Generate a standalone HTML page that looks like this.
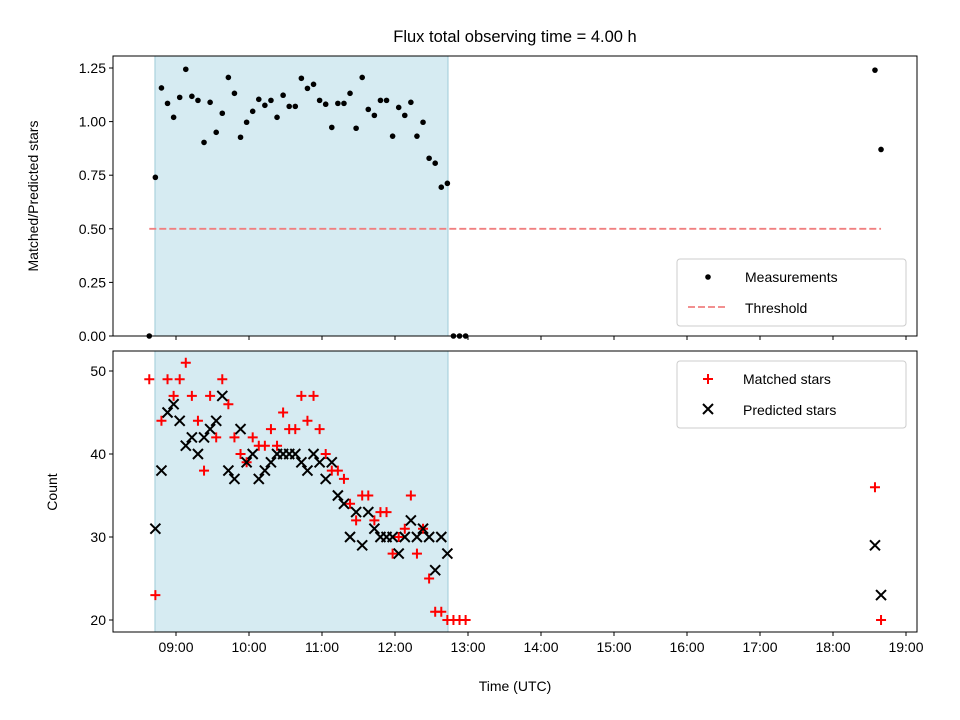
<!DOCTYPE html>
<html><head><meta charset="utf-8"><style>
body{margin:0;background:#fff}
svg{display:block;font-family:"Liberation Sans","DejaVu Sans",sans-serif}
</style></head><body>
<svg id="chart" width="960" height="720" viewBox="0 0 960 720">
<rect width="960" height="720" fill="#fff"/>
<text x="515" y="42" font-size="16.5" text-anchor="middle">Flux total observing time = 4.00 h</text>
<g id="topPanel"></g><g id="botPanel"></g>
</svg>
<script>
const ratioValues=[0,0.74,1.157,1.085,1.02,1.113,1.244,1.118,1.099,0.903,1.09,0.95,1.039,1.206,1.132,0.927,0.997,1.048,1.104,1.076,1.099,1.02,1.123,1.071,1.071,1.202,1.155,1.174,1.099,1.081,0.973,1.085,1.085,1.132,0.969,1.206,1.057,1.029,1.099,1.099,0.932,1.066,1.029,1.09,0.932,0.997,0.829,0.806,0.694,0.712,0,0,0];
const matchedValues=[49,23,44,49,47,49,51,47,44,38,47,42,49,46,42,40,39,42,41,41,43,41,45,43,43,47,44,47,43,40,38,38,37,34,32,35,35,32,33,33,28,30,31,35,28,31,25,21,21,20,20,20,20];
const predictedValues=[null,31,38,45,46,44,41,42,40,42,43,44,47,38,37,43,39,40,37,38,39,40,40,40,40,39,38,40,39,37,39,35,34,30,33,29,33,31,30,30,30,28,30,32,30,31,30,26,30,28,null,null,null];
const lateTimes=[18.575,18.658];
const lateRatio=[1.24,0.87];
const lateMatched=[36,20];
const latePredicted=[29,23];
const startTime=8.634, stepHours=5/60;
const shadeStart=8.712, shadeEnd=12.726, threshold=0.5, thrStart=8.634, thrEnd=18.658;
const xTickHours=[9,10,11,12,13,14,15,16,17,18,19];
const topTicks=[0,0.25,0.5,0.75,1.0,1.25];
const botTicks=[20,30,40,50];

const NS='http://www.w3.org/2000/svg';
const X=t=>176+(t-9)*73;
const YT=v=>336-v*214.4;
const YB=c=>620-(c-20)*8.3;
const times=ratioValues.map((_,i)=>startTime+i*stepHours);
function mk(p,tag,a){const e=document.createElementNS(NS,tag);for(const k in a)e.setAttribute(k,a[k]);p.appendChild(e);return e;}
const topG=document.getElementById('topPanel'), botG=document.getElementById('botPanel');

function shade(g,y0,y1,name){
  let s=mk(g,'rect',{x:X(shadeStart),y:y0,width:X(shadeEnd)-X(shadeStart),height:y1-y0,fill:'#add8e6','fill-opacity':0.5,stroke:'#9fcbd8'});
  
  
}
function frame(g,y0,y1,name,labels){
  let f=mk(g,'rect',{x:113,y:y0,width:804,height:y1-y0,fill:'none',stroke:'#000','stroke-width':1});
  
  
  xTickHours.forEach(h=>{
    mk(g,'line',{x1:X(h),x2:X(h),y1:y1,y2:y1+4,stroke:'#000'});
    if(labels){
      let t=mk(g,'text',{x:X(h),y:y1+20,'font-size':14,'text-anchor':'middle'});
      t.textContent=(h<10?'0':'')+h+':00';
      
      
    }
  });
}
// top
shade(topG,56,336,'top');
let thr=mk(topG,'line',{x1:X(thrStart),x2:X(thrEnd),y1:YT(threshold),y2:YT(threshold),stroke:'#f08080','stroke-width':1.8,'stroke-dasharray':'7,3'});


ratioValues.forEach((v,i)=>{
  let c=mk(topG,'circle',{cx:X(times[i]),cy:YT(v),r:2.8,fill:'#000'});
  
  
});
lateRatio.forEach((v,i)=>{
  let c=mk(topG,'circle',{cx:X(lateTimes[i]),cy:YT(v),r:2.8,fill:'#000'});
  
  
});
frame(topG,56,336,'top',false);
topTicks.forEach(v=>{
  mk(topG,'line',{x1:109,x2:113,y1:YT(v),y2:YT(v),stroke:'#000'});
  let t=mk(topG,'text',{x:106,y:YT(v)+5,'font-size':14,'text-anchor':'end'});
  t.textContent=v.toFixed(2);
  
  
});
let yl=mk(topG,'text',{x:38,y:196,'font-size':14,'text-anchor':'middle',transform:'rotate(-90 38 196)'});
yl.textContent='Matched/Predicted stars';


let lg=mk(topG,'g',{});


mk(lg,'rect',{x:677,y:259,width:229,height:67,rx:3,fill:'#fff','fill-opacity':0.8,stroke:'#ccc'});
mk(lg,'circle',{cx:708,cy:277,r:2.8,fill:'#000'});
let lt=mk(lg,'text',{x:745,y:282,'font-size':14});lt.textContent='Measurements';
mk(lg,'line',{x1:688,x2:728,y1:307,y2:307,stroke:'#f08080','stroke-width':1.8,'stroke-dasharray':'7,3'});
lt=mk(lg,'text',{x:745,y:313,'font-size':14});lt.textContent='Threshold';

// bottom
shade(botG,351,632,'bottom');
function plus(x,y){let g=mk(botG,'path',{d:`M${x-5} ${y}H${x+5}M${x} ${y-5}V${y+5}`,stroke:'#f00','stroke-width':2});
  
  }
function cross(x,y){let g=mk(botG,'path',{d:`M${x-5} ${y-5}L${x+5} ${y+5}M${x-5} ${y+5}L${x+5} ${y-5}`,stroke:'#000','stroke-width':2});
  
  }
matchedValues.forEach((v,i)=>{if(v!=null)plus(X(times[i]),YB(v));});
lateMatched.forEach((v,i)=>plus(X(lateTimes[i]),YB(v)));
predictedValues.forEach((v,i)=>{if(v!=null)cross(X(times[i]),YB(v));});
latePredicted.forEach((v,i)=>cross(X(lateTimes[i]),YB(v)));
frame(botG,351,632,'bottom',true);
botTicks.forEach(v=>{
  mk(botG,'line',{x1:109,x2:113,y1:YB(v),y2:YB(v),stroke:'#000'});
  let t=mk(botG,'text',{x:106,y:YB(v)+5,'font-size':14,'text-anchor':'end'});
  t.textContent=v;
  
  
});
yl=mk(botG,'text',{x:57,y:492,'font-size':14,'text-anchor':'middle',transform:'rotate(-90 57 492)'});
yl.textContent='Count';


let xl=mk(botG,'text',{x:515,y:691,'font-size':14,'text-anchor':'middle'});
xl.textContent='Time (UTC)';


lg=mk(botG,'g',{});


mk(lg,'rect',{x:677,y:361,width:229,height:67,rx:3,fill:'#fff','fill-opacity':0.8,stroke:'#ccc'});
mk(lg,'path',{d:'M703 379H713M708 374V384',stroke:'#f00','stroke-width':2});
lt=mk(lg,'text',{x:743,y:384,'font-size':14});lt.textContent='Matched stars';
mk(lg,'path',{d:'M703 404L713 414M703 414L713 404',stroke:'#000','stroke-width':2});
lt=mk(lg,'text',{x:743,y:415,'font-size':14});lt.textContent='Predicted stars';
</script>
</body></html>
